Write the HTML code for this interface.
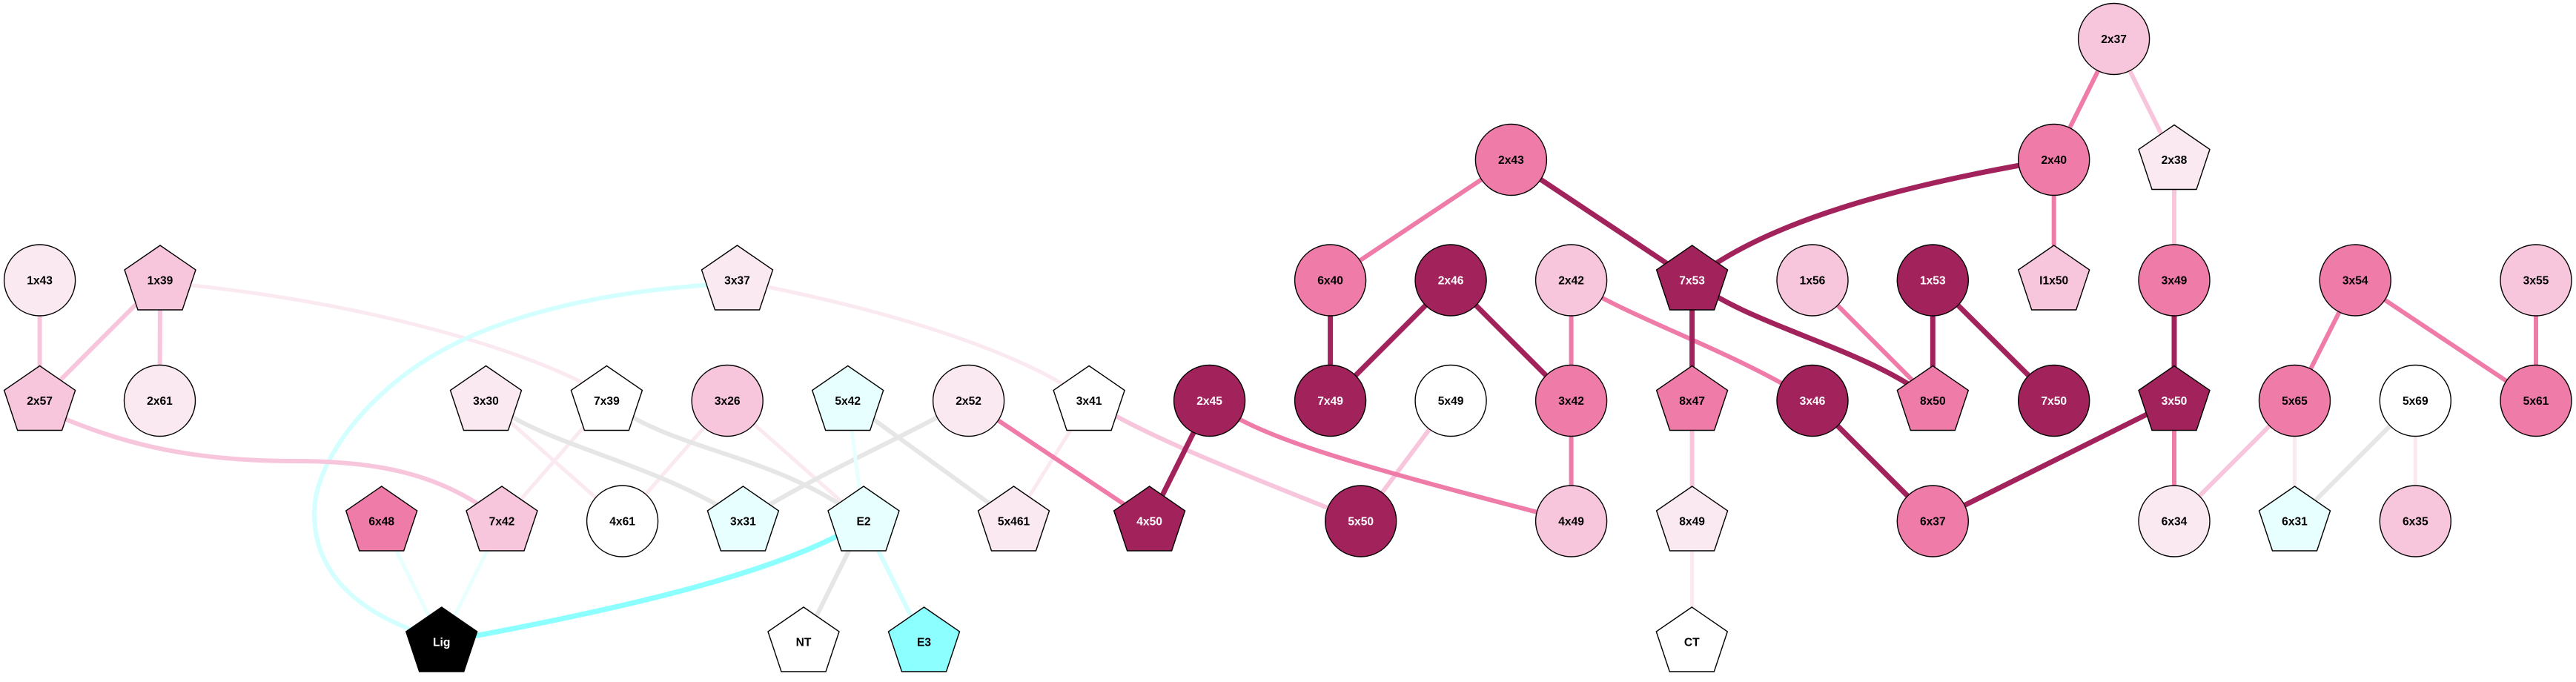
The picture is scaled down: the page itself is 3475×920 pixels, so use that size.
<!DOCTYPE html>
<html><head><meta charset="utf-8"><style>
html,body{margin:0;padding:0;background:#fff;}
svg{display:block;}
text{font-family:"Liberation Sans",Arial,sans-serif;font-weight:bold;font-size:15.6px;text-anchor:middle;}
.w{fill:#fff}.k{fill:#000}
.n{stroke:#000;stroke-width:1.4}
.e{fill:none;stroke-linecap:butt}
.VL{stroke:#fbe9f1;stroke-width:5}
.L{stroke:#f8c6dc;stroke-width:6}
.M{stroke:#ef7ba9;stroke-width:6}
.D{stroke:#a2225c;stroke-width:7}
.G{stroke:#e6e6e6;stroke-width:6}
.CV{stroke:#e8ffff;stroke-width:5}
.CL{stroke:#d4ffff;stroke-width:6}
.CS{stroke:#8cffff;stroke-width:7}
</style></head><body>
<svg width="3475" height="920" viewBox="0 0 3475 920" xmlns="http://www.w3.org/2000/svg">
<rect width="3475" height="920" fill="#fff"/>
<defs>
<polygon id="p" points="0,-47 48,-14 30,40 -30,40 -48,-14"/>
</defs>
<!-- edges -->
<g class="e">
<line class="VL" x1="1469" y1="540.5" x2="1367.5" y2="703"/>
<line class="VL" x1="655.5" y1="540.5" x2="839.6" y2="703"/>
<line class="VL" x1="818.4" y1="540.5" x2="677" y2="703"/>
<line class="VL" x1="981.2" y1="540.5" x2="839.6" y2="703"/>
<line class="VL" x1="981.2" y1="540.5" x2="1165" y2="703"/>
<line class="VL" x1="2282.6" y1="703" x2="2282.6" y2="866"/>
<line class="VL" x1="3095.5" y1="540.5" x2="3095.5" y2="703"/>
<line class="VL" x1="3258.3" y1="540.5" x2="3258.3" y2="703"/>
<path class="VL" d="M250 384 C500 410,700 470,797 522"/>
<path class="VL" d="M1030 386 C1200 420,1360 470,1450 528"/>

<path class="G" d="M680 556 C760 606,880 625,1000 700"/>
<path class="G" d="M845 558 C930 610,1060 620,1165 703"/>
<path class="G" d="M1306 540 C1220 590,1100 640,1002 703"/>
<line class="G" x1="1143.7" y1="540.5" x2="1367.5" y2="703"/>
<line class="G" x1="1165" y1="703" x2="1084" y2="866"/>
<line class="G" x1="3258.3" y1="540.5" x2="3095.5" y2="703"/>

<line class="CV" x1="1143.7" y1="540.5" x2="1165" y2="703"/>
<line class="CV" x1="514.7" y1="703" x2="595.7" y2="866"/>
<line class="CV" x1="677" y1="703" x2="595.7" y2="866"/>
<line class="CL" x1="1165" y1="703" x2="1246.5" y2="866"/>
<path class="CL" d="M960 384 C800 395,640 430,540 510 C470 565,420 640,424 700 C428 780,490 830,580 858"/>

<line class="L" x1="53.6" y1="378" x2="53.6" y2="540.5"/>
<line class="L" x1="216" y1="378" x2="53.6" y2="540.5"/>
<line class="L" x1="216" y1="378" x2="215.5" y2="540.5"/>
<path class="L" d="M80 562 C170 600,260 622,400 622 C510 622,590 640,660 690"/>
<path class="L" d="M1469 540 C1540 585,1640 625,1836 703"/>
<line class="L" x1="1957.1" y1="540.5" x2="1835.7" y2="703"/>
<line class="L" x1="2282.6" y1="540.5" x2="2282.6" y2="703"/>
<line class="L" x1="2851.6" y1="52.5" x2="2933" y2="215.5"/>
<line class="L" x1="2933" y1="215.5" x2="2933" y2="378"/>
<line class="L" x1="3095.5" y1="540.5" x2="2933" y2="703"/>

<line class="M" x1="1306.6" y1="540.5" x2="1550.6" y2="703"/>
<path class="M" d="M1632 541 C1700 590,1800 620,2120 703"/>
<line class="M" x1="2038.4" y1="215.5" x2="1794.6" y2="378"/>
<line class="M" x1="2119.6" y1="378" x2="2119.6" y2="540.5"/>
<line class="M" x1="2119.6" y1="540.5" x2="2119.6" y2="703"/>
<path class="M" d="M2120 378 C2200 430,2330 470,2445 541"/>
<line class="M" x1="2445" y1="378" x2="2607.3" y2="540.5"/>
<line class="M" x1="2851.6" y1="52.5" x2="2770.7" y2="215.5"/>
<line class="M" x1="2770.7" y1="215.5" x2="2770.7" y2="378"/>
<line class="M" x1="2933" y1="540.5" x2="2933" y2="703"/>
<line class="M" x1="3177.2" y1="378" x2="3095.5" y2="540.5"/>
<line class="M" x1="3177.2" y1="378" x2="3421" y2="540.5"/>
<line class="M" x1="3421" y1="378" x2="3421" y2="540.5"/>

<line class="D" x1="1631.6" y1="540.5" x2="1550.6" y2="703"/>
<line class="D" x1="2038.4" y1="215.5" x2="2282.6" y2="378"/>
<line class="D" x1="1794.6" y1="378" x2="1794.6" y2="540.5"/>
<line class="D" x1="1957.1" y1="378" x2="1794.6" y2="540.5"/>
<line class="D" x1="1957.1" y1="378" x2="2119.6" y2="540.5"/>
<line class="D" x1="2282.6" y1="378" x2="2282.6" y2="540.5"/>
<path class="D" d="M2283 378 C2380 300,2560 250,2771 215"/>
<path class="D" d="M2283 378 C2360 440,2520 470,2607 541"/>
<line class="D" x1="2607.3" y1="378" x2="2607.3" y2="540.5"/>
<line class="D" x1="2607.3" y1="378" x2="2770.7" y2="540.5"/>
<line class="D" x1="2445" y1="540.5" x2="2607.3" y2="703"/>
<line class="D" x1="2933" y1="540.5" x2="2607.3" y2="703"/>
<line class="D" x1="2933" y1="378" x2="2933" y2="540.5"/>

<path class="CS" d="M1165 703 C1060 770,850 820,596 866"/>
</g>

<!-- nodes -->
<g class="n">
<circle cx="53.6" cy="378" r="48" fill="#fbe9f1"/>
<use href="#p" x="216" y="378" fill="#f8c6dc"/>
<use href="#p" x="53.6" y="540.5" fill="#f8c6dc"/>
<circle cx="215.5" cy="540.5" r="48" fill="#fbe9f1"/>
<use href="#p" x="994.5" y="378" fill="#fbe9f1"/>
<use href="#p" x="655.5" y="540.5" fill="#fbe9f1"/>
<use href="#p" x="818.4" y="540.5" fill="#ffffff"/>
<circle cx="981.2" cy="540.5" r="48" fill="#f8c6dc"/>
<use href="#p" x="1143.7" y="540.5" fill="#e8ffff"/>
<circle cx="1306.6" cy="540.5" r="48" fill="#fbe9f1"/>
<use href="#p" x="1469.1" y="540.5" fill="#ffffff"/>
<circle cx="1631.6" cy="540.5" r="48" fill="#a2225c"/>
<circle cx="1794.6" cy="378" r="48" fill="#ef7ba9"/>
<circle cx="1957.1" cy="378" r="48" fill="#a2225c"/>
<circle cx="2119.6" cy="378" r="48" fill="#f8c6dc"/>
<use href="#p" x="2282.6" y="378" fill="#a2225c"/>
<circle cx="1794.6" cy="540.5" r="48" fill="#a2225c"/>
<circle cx="1957.1" cy="540.5" r="48" fill="#ffffff"/>
<circle cx="2119.6" cy="540.5" r="48" fill="#ef7ba9"/>
<use href="#p" x="2282.6" y="540.5" fill="#ef7ba9"/>
<circle cx="2038.4" cy="215.5" r="48" fill="#ef7ba9"/>
<circle cx="2445" cy="378" r="48" fill="#f8c6dc"/>
<circle cx="2607.3" cy="378" r="48" fill="#a2225c"/>
<use href="#p" x="2770.7" y="378" fill="#f8c6dc"/>
<circle cx="2933" cy="378" r="48" fill="#ef7ba9"/>
<circle cx="3177.2" cy="378" r="48" fill="#ef7ba9"/>
<circle cx="3421" cy="378" r="48" fill="#f8c6dc"/>
<circle cx="2445" cy="540.5" r="48" fill="#a2225c"/>
<use href="#p" x="2607.3" y="540.5" fill="#ef7ba9"/>
<circle cx="2770.7" cy="540.5" r="48" fill="#a2225c"/>
<use href="#p" x="2933" y="540.5" fill="#a2225c"/>
<circle cx="3095.5" cy="540.5" r="48" fill="#ef7ba9"/>
<circle cx="3258.3" cy="540.5" r="48" fill="#ffffff"/>
<circle cx="3421" cy="540.5" r="48" fill="#ef7ba9"/>
<circle cx="2851.6" cy="52.5" r="48" fill="#f8c6dc"/>
<circle cx="2770.7" cy="215.5" r="48" fill="#ef7ba9"/>
<use href="#p" x="2933" y="215.5" fill="#fbe9f1"/>
<use href="#p" x="514.7" y="703" fill="#ef7ba9"/>
<use href="#p" x="677" y="703" fill="#f8c6dc"/>
<circle cx="839.6" cy="703" r="48" fill="#ffffff"/>
<use href="#p" x="1002.4" y="703" fill="#e8ffff"/>
<use href="#p" x="1165" y="703" fill="#e8ffff"/>
<use href="#p" x="1367.5" y="703" fill="#fbe9f1"/>
<use href="#p" x="1550.6" y="703" fill="#a2225c"/>
<circle cx="1835.7" cy="703" r="48" fill="#a2225c"/>
<circle cx="2119.6" cy="703" r="48" fill="#f8c6dc"/>
<use href="#p" x="2282.6" y="703" fill="#fbe9f1"/>
<circle cx="2607.3" cy="703" r="48" fill="#ef7ba9"/>
<circle cx="2933" cy="703" r="48" fill="#fbe9f1"/>
<use href="#p" x="3095.5" y="703" fill="#e8ffff"/>
<circle cx="3258.3" cy="703" r="48" fill="#f8c6dc"/>
<use href="#p" x="595.7" y="866" fill="#000000"/>
<use href="#p" x="1084" y="866" fill="#ffffff"/>
<use href="#p" x="1246.5" y="866" fill="#8cffff"/>
<use href="#p" x="2282.3" y="866" fill="#ffffff"/>
</g>

<!-- labels -->
<g class="k">
<text x="53.6" y="383.6">1x43</text>
<text x="216" y="383.6">1x39</text>
<text x="53.6" y="546.1">2x57</text>
<text x="215.5" y="546.1">2x61</text>
<text x="994.5" y="383.6">3x37</text>
<text x="655.5" y="546.1">3x30</text>
<text x="818.4" y="546.1">7x39</text>
<text x="981.2" y="546.1">3x26</text>
<text x="1143.7" y="546.1">5x42</text>
<text x="1306.6" y="546.1">2x52</text>
<text x="1469.1" y="546.1">3x41</text>
<text x="1794.6" y="383.6">6x40</text>
<text x="2119.6" y="383.6">2x42</text>
<text x="1957.1" y="546.1">5x49</text>
<text x="2119.6" y="546.1">3x42</text>
<text x="2282.6" y="546.1">8x47</text>
<text x="2038.4" y="221.1">2x43</text>
<text x="2445" y="383.6">1x56</text>
<text x="2770.7" y="383.6">I1x50</text>
<text x="2933" y="383.6">3x49</text>
<text x="3177.2" y="383.6">3x54</text>
<text x="3421" y="383.6">3x55</text>
<text x="2607.3" y="546.1">8x50</text>
<text x="3095.5" y="546.1">5x65</text>
<text x="3258.3" y="546.1">5x69</text>
<text x="3421" y="546.1">5x61</text>
<text x="2851.6" y="58.1">2x37</text>
<text x="2770.7" y="221.1">2x40</text>
<text x="2933" y="221.1">2x38</text>
<text x="514.7" y="708.6">6x48</text>
<text x="677" y="708.6">7x42</text>
<text x="839.6" y="708.6">4x61</text>
<text x="1002.4" y="708.6">3x31</text>
<text x="1165" y="708.6">E2</text>
<text x="1367.5" y="708.6">5x461</text>
<text x="2119.6" y="708.6">4x49</text>
<text x="2282.6" y="708.6">8x49</text>
<text x="2607.3" y="708.6">6x37</text>
<text x="2933" y="708.6">6x34</text>
<text x="3095.5" y="708.6">6x31</text>
<text x="3258.3" y="708.6">6x35</text>
<text x="1084" y="871.6">NT</text>
<text x="1246.5" y="871.6">E3</text>
<text x="2282.3" y="871.6">CT</text>
</g>
<g class="w">
<text x="1631.6" y="546.1">2x45</text>
<text x="1957.1" y="383.6">2x46</text>
<text x="2282.6" y="383.6">7x53</text>
<text x="1794.6" y="546.1">7x49</text>
<text x="2607.3" y="383.6">1x53</text>
<text x="2445" y="546.1">3x46</text>
<text x="2770.7" y="546.1">7x50</text>
<text x="2933" y="546.1">3x50</text>
<text x="1550.6" y="708.6">4x50</text>
<text x="1835.7" y="708.6">5x50</text>
<text x="595.7" y="871.6">Lig</text>
</g>
</svg>
</body></html>
